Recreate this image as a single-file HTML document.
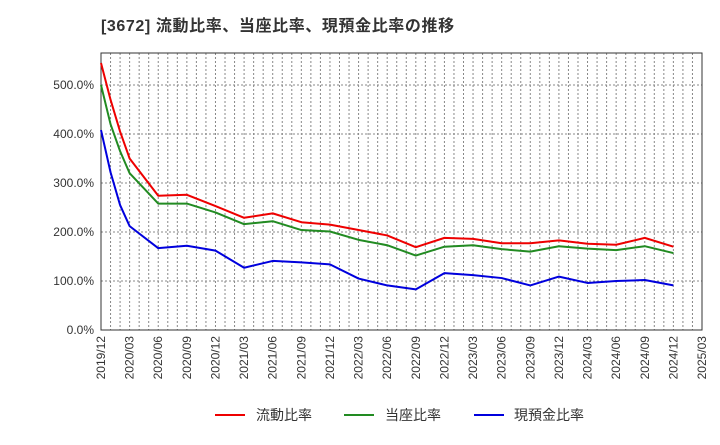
<!DOCTYPE html>
<html><head><meta charset="utf-8"><style>
body{margin:0;background:#fff;font-family:"Liberation Sans","Noto Sans CJK JP",sans-serif;}
</style></head><body>
<svg width="720" height="440" xmlns="http://www.w3.org/2000/svg" font-family="Liberation Sans, Noto Sans CJK JP, sans-serif">
<text x="101" y="31" font-size="16" font-weight="bold" fill="#333" letter-spacing="0.6">[3672]  流動比率、当座比率、現預金比率の推移</text>
<g id="grid"></g>
<rect x="101" y="53" width="601" height="277" fill="none" stroke="#333" stroke-width="1"/>
<g id="ticks"></g>
<g id="series"></g>
<g font-size="14" fill="#333">
<line x1="215" y1="415" x2="245" y2="415" stroke="#e00" stroke-width="2"/><text x="256" y="420">流動比率</text>
<line x1="344" y1="415" x2="374" y2="415" stroke="#228b22" stroke-width="2"/><text x="385" y="420">当座比率</text>
<line x1="474" y1="415" x2="504" y2="415" stroke="#00d" stroke-width="2"/><text x="514" y="420">現預金比率</text>
</g>
</svg>
<script>
const months=[0,1,2,3,6,9,12,15,18,21,24,27,30,33,36,39,42,45,48,51,54,57,60];
const currentRatio=[545,470,405,350,274,276,253,229,238,220,215,204,193,169,188,186,177,177,183,176,174,188,170];
const quickRatio=[500,420,365,320,258,258,240,216,222,204,201,184,173,152,170,173,165,160,171,166,163,171,157];
const cashRatio=[408,322,255,212,167,172,162,127,141,138,134,105,91,83,116,112,106,91,109,96,100,102,91];
const yTicks=[0,100,200,300,400,500];
const xLabels=["2019/12","2020/03","2020/06","2020/09","2020/12","2021/03","2021/06","2021/09","2021/12","2022/03","2022/06","2022/09","2022/12","2023/03","2023/06","2023/09","2023/12","2024/03","2024/06","2024/09","2024/12","2025/03"];
const NS="http://www.w3.org/2000/svg";
const X0=101,X1=702,Y0=330,YT=53,totalM=63;
const xs=m=>X0+(X1-X0)*m/totalM;
const ys=v=>Y0-v*0.49;
const grid=document.getElementById('grid'),ticks=document.getElementById('ticks'),series=document.getElementById('series');
function mk(t,a,p){const e=document.createElementNS(NS,t);for(const k in a)e.setAttribute(k,a[k]);p.appendChild(e);return e;}
for(let m=1;m<totalM;m++){
 const l=mk('line',{x1:xs(m),x2:xs(m),y1:YT,y2:Y0,stroke:'#888','stroke-dasharray':'2,2','stroke-width':1},grid);
 
 
}
yTicks.forEach(v=>{
 const l=mk('line',{x1:X0,x2:X1,y1:ys(v),y2:ys(v),stroke:'#888','stroke-dasharray':'2,2','stroke-width':1},grid);
 
 
 const t=mk('text',{x:94,y:ys(v)+4,'text-anchor':'end','font-size':12,fill:'#333'},ticks);
 t.textContent=v.toFixed(1)+'%';
 
 
});
xLabels.forEach((s,i)=>{
 const x=xs(i*3);
 const t=mk('text',{x:0,y:0,'text-anchor':'end','font-size':12,fill:'#333',transform:`translate(${x+4},336) rotate(-90)`},ticks);
 t.textContent=s;
 
 
});
function line(vals,color,name){
 const p=mk('polyline',{points:vals.map((v,i)=>xs(months[i])+','+ys(v)).join(' '),fill:'none',stroke:color,'stroke-width':2,'stroke-linejoin':'round'},series);
 
 
}
line(quickRatio,'#228b22','quick-ratio-line');
line(cashRatio,'#00d','cash-ratio-line');
line(currentRatio,'#e00','current-ratio-line');
</script>
</body></html>
